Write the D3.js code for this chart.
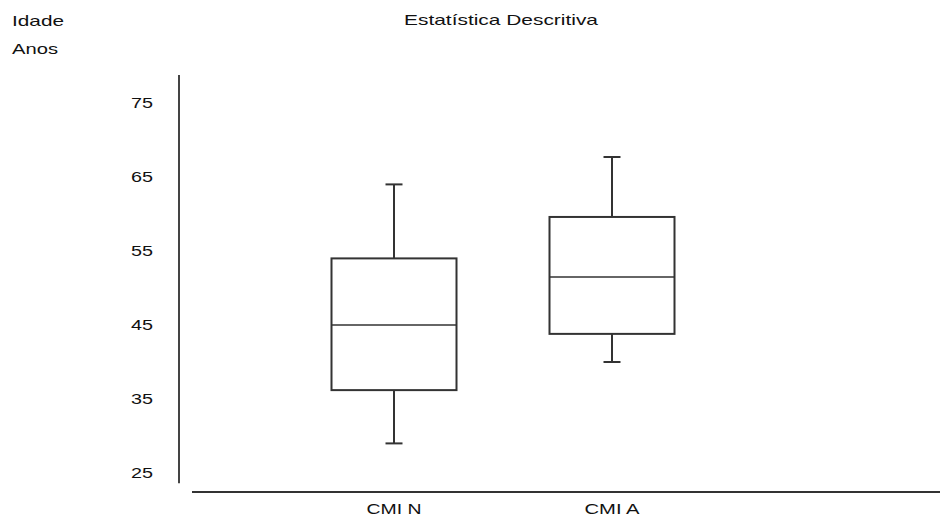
<!DOCTYPE html>
<html>
<head>
<meta charset="utf-8">
<script src="https://cdn.jsdelivr.net/npm/d3@7"></script>
<style>
  body { margin: 0; background: #fff; }
  svg text { font-family: "Liberation Sans", Arial, sans-serif; fill: #111; }
</style>
</head>
<body>
<svg width="942" height="518"></svg>
<script>
// box plot data
var groups = ["CMI N", "CMI A"];
var mins = [29, 40];
var q1s = [36.2, 43.8];
var medians = [45, 51.5];
var q3s = [54, 59.6];
var maxs = [64, 67.7];
var yTicks = [25, 35, 45, 55, 65, 75];

var svg = d3.select("svg");

var y = d3.scaleLinear().domain([25, 75]).range([473, 103]);
var x = d3.scaleBand().domain(groups).range([285, 721]);

var boxW = 125, capW = 17;
var ink = "#333";

// the original text is a wide bitmap font, so stretch it to its measured width
function label(tx, ty, str, len, anchor) {
  return svg.append("text").attr("x", tx).attr("y", ty)
    .attr("text-anchor", anchor || "start")
    .attr("textLength", len).attr("lengthAdjust", "spacingAndGlyphs")
    .style("font-size", "15px").text(str);
}

label(12, 26, "Idade", 52);
label(12, 54, "Anos", 46);
label(501, 25, "Estatística Descritiva", 194, "middle");

// y axis
var yAxis = svg.append("g")
  .attr("transform", "translate(179,0)")
  .call(d3.axisLeft(y).tickValues(yTicks).tickSize(0).tickPadding(26));
yAxis.select(".domain").remove();
yAxis.selectAll("text")
  .style("font-size", "15px")
  .style("font-family", "'Liberation Sans', Arial, sans-serif")
  .attr("fill", "#111")
  .attr("textLength", 22).attr("lengthAdjust", "spacingAndGlyphs");

svg.append("line")
  .attr("x1", 179).attr("x2", 179)
  .attr("y1", y(78.8)).attr("y2", y(23.6))
  .attr("stroke", "#444").attr("stroke-width", 2);

// x axis
svg.append("line")
  .attr("x1", 192).attr("x2", 940)
  .attr("y1", 492).attr("y2", 492)
  .attr("stroke", "#333").attr("stroke-width", 2);

var xAxis = svg.append("g")
  .attr("transform", "translate(0,500)")
  .call(d3.axisBottom(x).tickSize(0).tickPadding(3));
xAxis.select(".domain").remove();
xAxis.selectAll("text")
  .style("font-size", "15px")
  .style("font-family", "'Liberation Sans', Arial, sans-serif")
  .attr("fill", "#111")
  .attr("textLength", 55).attr("lengthAdjust", "spacingAndGlyphs");

// boxes
var g = svg.selectAll(".box").data(groups).enter().append("g").attr("class", "box");

g.each(function(d, i) {
  var el = d3.select(this);
  var cx = x(d) + x.bandwidth() / 2;
  // whiskers
  el.append("line").attr("x1", cx).attr("x2", cx)
    .attr("y1", y(maxs[i])).attr("y2", y(q3s[i]))
    .attr("stroke", ink).attr("stroke-width", 2);
  el.append("line").attr("x1", cx).attr("x2", cx)
    .attr("y1", y(q1s[i])).attr("y2", y(mins[i]))
    .attr("stroke", ink).attr("stroke-width", 2);
  el.append("line").attr("x1", cx - capW / 2).attr("x2", cx + capW / 2)
    .attr("y1", y(maxs[i])).attr("y2", y(maxs[i]))
    .attr("stroke", ink).attr("stroke-width", 2);
  el.append("line").attr("x1", cx - capW / 2).attr("x2", cx + capW / 2)
    .attr("y1", y(mins[i])).attr("y2", y(mins[i]))
    .attr("stroke", ink).attr("stroke-width", 2);
  // box
  el.append("rect")
    .attr("x", cx - boxW / 2).attr("width", boxW)
    .attr("y", y(q3s[i])).attr("height", y(q1s[i]) - y(q3s[i]))
    .attr("fill", "#fff").attr("stroke", ink).attr("stroke-width", 2);
  // median
  el.append("line").attr("x1", cx - boxW / 2).attr("x2", cx + boxW / 2)
    .attr("y1", y(medians[i])).attr("y2", y(medians[i]))
    .attr("stroke", ink).attr("stroke-width", 1.5);
});
</script>
</body>
</html>
